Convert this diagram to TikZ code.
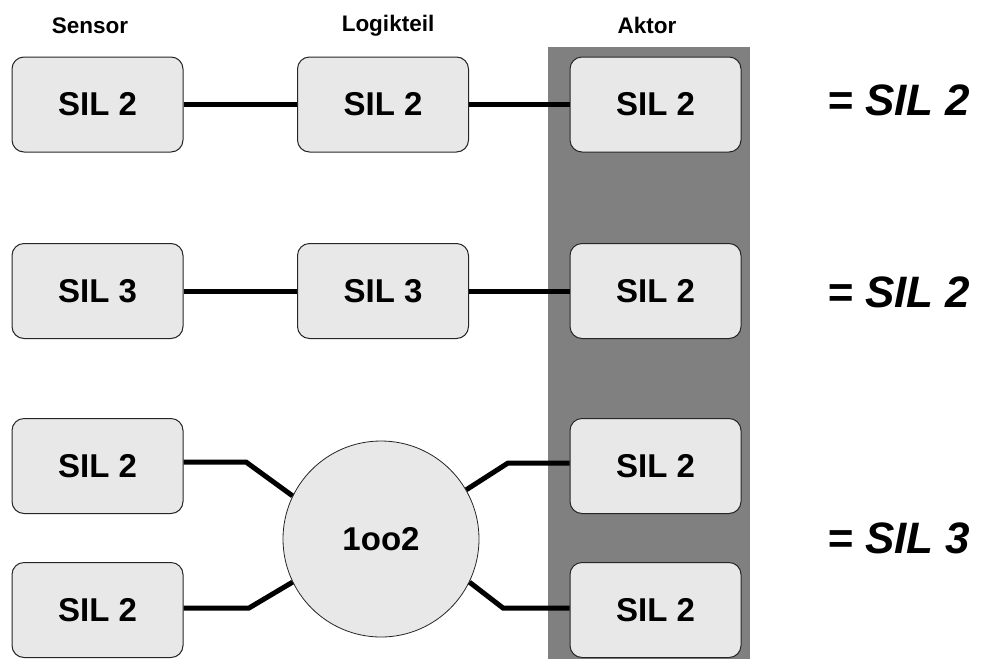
\documentclass[tikz,border=0pt]{standalone}
\usepackage{fontspec}
\setmainfont{Liberation Sans}
\begin{document}
\begin{tikzpicture}[x=1pt,y=-1pt,
  silbox/.style={draw=black!85,line width=1pt,fill=black!9,rounded corners=12pt,
    minimum width=171pt,minimum height=95pt,inner sep=0pt,
    font=\fontsize{33}{40}\selectfont\bfseries},
  votebox/.style={circle,draw=black!85,line width=0.8pt,fill=black!9,
    minimum size=196pt,inner sep=0pt,font=\fontsize{33}{40}\selectfont\bfseries},
  header/.style={anchor=base,font=\fontsize{22.5}{27}\selectfont\bfseries},
  result/.style={anchor=base west,inner sep=0pt,font=\fontsize{44}{52}\selectfont\bfseries\itshape},
  wire/.style={line width=5pt,line join=miter}]
\useasboundingbox (0,0) rectangle (987,659);
% actuator column background
\fill[black!50] (548,47) rectangle (750,659);

% column headers
\node[header] (hs) at (90,33) {Sensor};
\node[header] (hl) at (388,31) {Logikteil};
\node[header] (ha) at (647,33) {Aktor};

% row 1
\node[silbox] (s1) at (97.5,104.5) {SIL 2};
\node[silbox] (l1) at (383,104.5) {SIL 2};
\node[silbox] (a1) at (655.5,104.5) {SIL 2};
% row 2
\node[silbox] (s2) at (97.5,291) {SIL 3};
\node[silbox] (l2) at (383,291) {SIL 3};
\node[silbox] (a2) at (655.5,291) {SIL 2};
% rows 3/4: redundant channels with 1oo2 voting
\node[silbox] (s3) at (97.5,466) {SIL 2};
\node[silbox] (s4) at (97.5,610) {SIL 2};
\node[silbox] (a3) at (655.5,466) {SIL 2};
\node[silbox] (a4) at (655.5,610) {SIL 2};
\node[votebox] (v) at (381,539) {1oo2};

% connections
\draw[wire] (s1.east) -- (l1.west);
\draw[wire] (l1.east) -- (a1.west);
\draw[wire] (s2.east) -- (l2.west);
\draw[wire] (l2.east) -- (a2.west);

\coordinate (k1) at (246,462);
\coordinate (k2) at (249,608);
\coordinate (k3) at (508,463);
\coordinate (k4) at (503,608);
\draw[wire] (s3.east |- k1) -- (k1) -- (v.154.7);
\draw[wire] (s4.east |- k2) -- (k2) -- (v.206.6);
\draw[wire] (v.30.7) -- (k3) -- (a3.west |- k3);
\draw[wire] (v.-26.3) -- (k4) -- (a4.west |- k4);

% resulting integrity levels
\node[result] (r1) at (827,115) {= SIL 2};
\node[result] (r2) at (827,307) {= SIL 2};
\node[result] (r3) at (827,553) {= SIL 3};
\end{tikzpicture}
\end{document}
